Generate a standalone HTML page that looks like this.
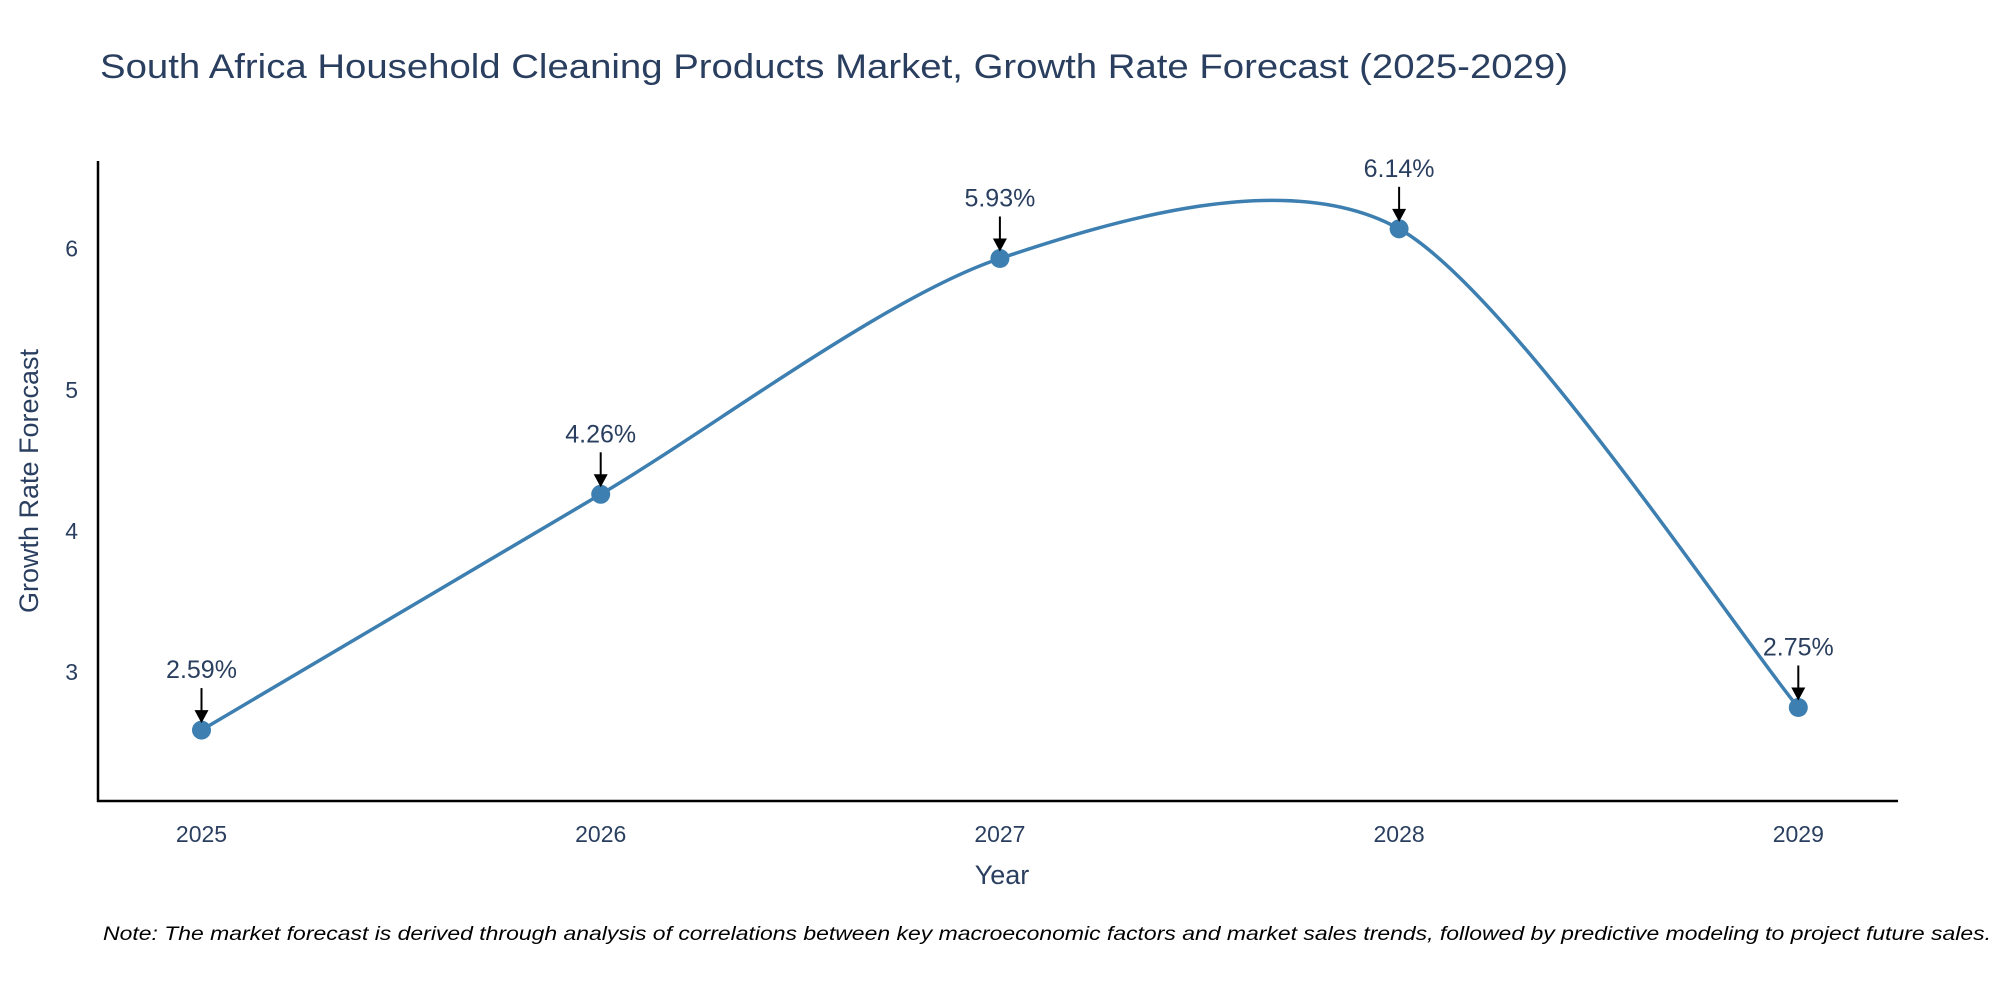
<!DOCTYPE html>
<html><head><meta charset="utf-8"><style>
html,body{margin:0;padding:0;background:#fff;}
svg{display:block;font-family:"Liberation Sans",sans-serif;}
</style></head><body>
<svg id="chart" width="2000" height="1000" xmlns="http://www.w3.org/2000/svg">
<text x="100" y="78" font-size="34" fill="#2a3f5f" textLength="1468" lengthAdjust="spacingAndGlyphs">South Africa Household Cleaning Products Market, Growth Rate Forecast (2025-2029)</text>
<g id="axes"></g>
<g id="series"></g>
<text x="1002" y="884" font-size="27" fill="#2a3f5f" text-anchor="middle">Year</text>
<text transform="translate(38,481) rotate(-90)" font-size="27" fill="#2a3f5f" text-anchor="middle">Growth Rate Forecast</text>
<text x="103" y="940" font-size="19" font-style="italic" fill="#000" textLength="1888" lengthAdjust="spacingAndGlyphs">Note: The market forecast is derived through analysis of correlations between key macroeconomic factors and market sales trends, followed by predictive modeling to project future sales.</text>
</svg>
<script>
const years = ["2025","2026","2027","2028","2029"];
const growth = [2.59, 4.26, 5.93, 6.14, 2.75];
const labels = ["2.59%","4.26%","5.93%","6.14%","2.75%"];
const yTicks = [3, 4, 5, 6];

const NS = "http://www.w3.org/2000/svg";
const L = 98, R = 1898, T = 161, B = 801;
const x0 = 201.5, dx = 399.2;
function xs(i){ return x0 + i*dx; }
function ys(v){ return 672.2 - (v-3)*141.2; }
function mk(tag, attrs, parent){
  const e = document.createElementNS(NS, tag);
  for (const k in attrs) e.setAttribute(k, attrs[k]);
  parent.appendChild(e); return e;
}
const axes = document.getElementById('axes');
const series = document.getElementById('series');
let a = mk('line',{x1:L,y1:T,x2:L,y2:B+1,stroke:'#000','stroke-width':2.5},axes);


a = mk('line',{x1:L-1,y1:B,x2:R,y2:B,stroke:'#000','stroke-width':2.5},axes);


yTicks.forEach(v=>{
  const t = mk('text',{x:L-20,y:ys(v)+8,'font-size':23,fill:'#2a3f5f','text-anchor':'end'},axes);
  t.textContent = v;
  
  
});
years.forEach((y,i)=>{
  const t = mk('text',{x:xs(i),y:B+41,'font-size':23,fill:'#2a3f5f','text-anchor':'middle'},axes);
  t.textContent = y;
  
  
});
const pts = growth.map((v,i)=>[xs(i),ys(v)]);
let d = `M${pts[0][0]},${pts[0][1]}`;
const k = 0.42;
for (let i=0;i<pts.length-1;i++){
  const p0 = pts[Math.max(0,i-1)], p1 = pts[i], p2 = pts[i+1], p3 = pts[Math.min(pts.length-1,i+2)];
  const c1 = [p1[0]+(p2[0]-p0[0])*k/3, p1[1]+(p2[1]-p0[1])*k/3];
  const c2 = [p2[0]-(p3[0]-p1[0])*k/3, p2[1]-(p3[1]-p1[1])*k/3];
  d += ` C${c1[0]},${c1[1]} ${c2[0]},${c2[1]} ${p2[0]},${p2[1]}`;
}
const line = mk('path',{d:d,fill:'none',stroke:'#3d7fb0','stroke-width':3.5},series);


pts.forEach((p,i)=>{
  const c = mk('circle',{cx:p[0],cy:p[1],r:9.5,fill:'#3d7fb0'},series);
  
  
  const g = mk('g',{},series);
  
  
  mk('line',{x1:p[0],y1:p[1]-42,x2:p[0],y2:p[1]-18,stroke:'#000','stroke-width':2},g);
  mk('polygon',{points:`${p[0]-7},${p[1]-20} ${p[0]+7},${p[1]-20} ${p[0]},${p[1]-7}`,fill:'#000'},g);
  const t = mk('text',{x:p[0],y:p[1]-52,'font-size':25,fill:'#2a3f5f','text-anchor':'middle'},g);
  t.textContent = labels[i];
});
</script>
</body></html>
